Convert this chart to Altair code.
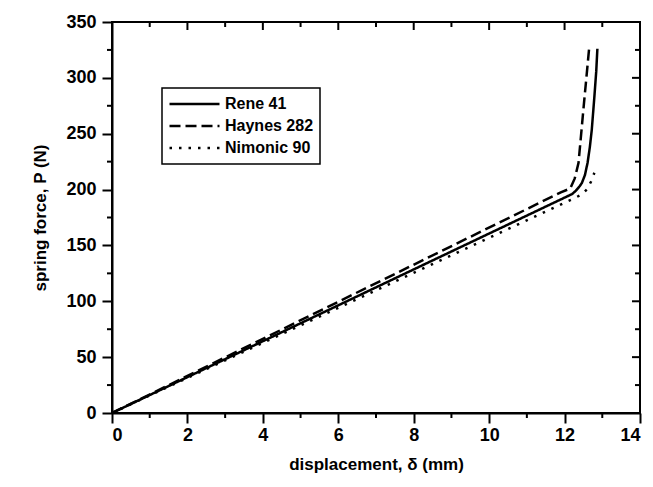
import altair as alt
import pandas as pd

# Load-deflection curves of three superalloy springs
rene_x = [0, 12.20, 12.30, 12.40, 12.46, 12.54, 12.61, 12.67, 12.72, 12.79, 12.84, 12.87]
rene_y = [0, 196, 199, 203, 206, 213, 224, 238, 253, 283, 306, 326]

haynes_x = [0, 11.90, 12.15, 12.27, 12.37, 12.50, 12.65]
haynes_y = [0, 197.5, 201, 210, 224, 272, 326]

nimonic_x = [0, 12.24, 12.45, 12.59, 12.70, 12.79]
nimonic_y = [0, 192, 195.5, 200, 207, 215]

series = ["Rene 41", "Haynes 282", "Nimonic 90"]
dashes = [[1, 0], [11, 5], [2.5, 7]]

x_major = [0, 2, 4, 6, 8, 10, 12, 14]
x_minor = [1, 3, 5, 7, 9, 11, 13]
y_major = [0, 50, 100, 150, 200, 250, 300, 350]
y_minor = [25, 75, 125, 175, 225, 275, 325]

rows = []
for name, xs, ys in zip(series, [rene_x, haynes_x, nimonic_x], [rene_y, haynes_y, nimonic_y]):
    for i, (a, b) in enumerate(zip(xs, ys)):
        rows.append({"alloy": name, "order": i, "d": a, "P": b})
df = pd.DataFrame(rows)

W, H = 528, 391
FONT = "Liberation Sans"

xs = alt.Scale(domain=[0, 14], nice=False, zero=False)
ys = alt.Scale(domain=[0, 350], nice=False, zero=False)

lines = alt.Chart(df).mark_line(color="black", strokeWidth=2.5, clip=True).encode(
    x=alt.X("d:Q", scale=xs,
            axis=alt.Axis(title="displacement, δ (mm)", values=x_major, format="d",
                          tickSize=10, tickWidth=2, domainWidth=2, domainColor="black",
                          tickColor="black", labelPadding=3, titlePadding=12,
                          grid=False)),
    y=alt.Y("P:Q", scale=ys,
            axis=alt.Axis(title="spring force, P (N)", values=y_major, format="d",
                          tickSize=10, tickWidth=2, domainWidth=2, domainColor="black",
                          tickColor="black", labelPadding=6, titlePadding=16,
                          grid=False)),
    strokeDash=alt.StrokeDash("alloy:N", sort=series,
                              scale=alt.Scale(domain=series, range=dashes),
                              legend=alt.Legend(title=None, orient="none",
                                                legendX=50, legendY=66,
                                                symbolType="stroke", symbolSize=2500,
                                                symbolStrokeWidth=2.5,
                                                symbolStrokeColor="black",
                                                clipHeight=20, rowPadding=2,
                                                labelFontSize=16, labelFontWeight="bold",
                                                labelFont=FONT, labelColor="black",
                                                labelOffset=4,
                                                strokeColor="black", padding=6)),
    order="order:Q",
)

# minor ticks on bottom / left (outward), all ticks mirrored inward on top / right
xminor_df = pd.DataFrame({"v": x_minor})
yminor_df = pd.DataFrame({"v": y_minor})

tick_style = dict(color="black", strokeWidth=2)

bx_minor = alt.Chart(xminor_df).mark_rule(**tick_style).encode(
    x=alt.X("v:Q", scale=xs), y=alt.value(H), y2=alt.value(H + 5))
ly_minor = alt.Chart(yminor_df).mark_rule(**tick_style).encode(
    y=alt.Y("v:Q", scale=ys), x=alt.value(0), x2=alt.value(-5))

top_major = alt.Chart(pd.DataFrame({"v": x_major})).mark_rule(**tick_style).encode(
    x=alt.X("v:Q", scale=xs), y=alt.value(0), y2=alt.value(8))
top_minor = alt.Chart(xminor_df).mark_rule(**tick_style).encode(
    x=alt.X("v:Q", scale=xs), y=alt.value(0), y2=alt.value(5))
right_major = alt.Chart(pd.DataFrame({"v": y_major})).mark_rule(**tick_style).encode(
    y=alt.Y("v:Q", scale=ys), x=alt.value(W), x2=alt.value(W - 8))
right_minor = alt.Chart(yminor_df).mark_rule(**tick_style).encode(
    y=alt.Y("v:Q", scale=ys), x=alt.value(W), x2=alt.value(W - 5))

chart = alt.layer(
    lines, bx_minor, ly_minor, top_major, top_minor, right_major, right_minor
).properties(
    width=W, height=H,
    autosize=alt.AutoSizeParams(type="none"),
    padding={"left": 112, "top": 22, "right": 13, "bottom": 74},
    background="white",
).configure_view(
    stroke="black", strokeWidth=2
).configure_axis(
    labelFont=FONT, labelFontSize=18, labelFontWeight="bold", labelColor="black",
    titleFont=FONT, titleFontSize=17, titleFontWeight="bold", titleColor="black",
).configure_legend(
    strokeWidth=1.5
)

chart.save("out.html", embed_options={"renderer": "svg", "actions": False})
